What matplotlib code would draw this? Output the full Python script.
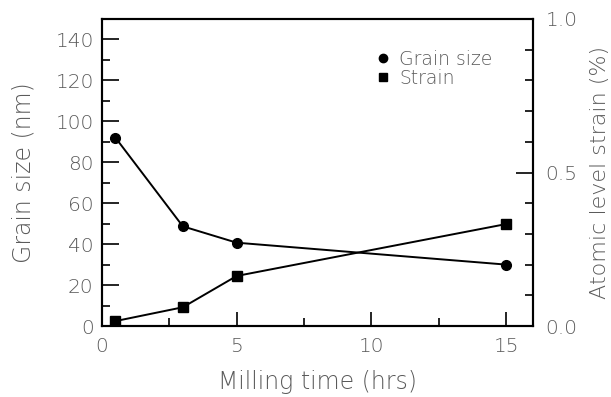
import matplotlib.pyplot as plt
from matplotlib.lines import Line2D
from matplotlib.ticker import MultipleLocator

# data
milling_time = [0.5, 3, 5, 15]
grain_size = [92, 48.7, 40.7, 30]          # nm
strain = [0.016, 0.061, 0.163, 0.332]      # %

TXT = "#5a5a5a"
plt.rcParams['font.family'] = ['DejaVu Sans']
plt.rcParams['font.weight'] = 'light'

fig = plt.figure(figsize=(6.11, 3.97), dpi=100)
ax = fig.add_axes([102 / 611, 1 - 326 / 397, 431 / 611, 307 / 397])
ax2 = ax.twinx()

ax.plot(milling_time, grain_size, color="black", lw=1.4, marker="o", ms=7)
ax2.plot(milling_time, strain, color="black", lw=1.4, marker="s", ms=7)

ax.set_xlim(0, 16)
ax.set_ylim(0, 150)
ax2.set_ylim(0, 1.0)

ax.xaxis.set_major_locator(MultipleLocator(5))
ax.xaxis.set_minor_locator(MultipleLocator(2.5))
ax.yaxis.set_major_locator(MultipleLocator(20))
ax.yaxis.set_minor_locator(MultipleLocator(10))
ax2.yaxis.set_major_locator(MultipleLocator(0.5))
ax2.yaxis.set_minor_locator(MultipleLocator(0.1))
ax2.yaxis.set_major_formatter(plt.FormatStrFormatter("%.1f"))

ax.tick_params(axis="x", which="both", direction="in", top=False, colors="black",
               labelcolor=TXT, labelsize=14.5, pad=8)
ax.tick_params(axis="x", which="major", length=10, width=1.2)
ax.tick_params(axis="x", which="minor", length=6, width=1.2)
ax.tick_params(axis="y", which="both", direction="in", right=False, colors="black",
               labelcolor=TXT, labelsize=14.5, pad=6)
ax.tick_params(axis="y", which="major", length=12, width=1.2)
ax.tick_params(axis="y", which="minor", length=6, width=1.2)
ax2.tick_params(axis="y", which="both", direction="in", colors="black",
                labelcolor=TXT, labelsize=14.5, pad=9)
ax2.tick_params(axis="y", which="major", length=12, width=1.2)
ax2.tick_params(axis="y", which="minor", length=6, width=1.2)

for a in (ax, ax2):
    for s in a.spines.values():
        s.set_linewidth(1.5)

lbl = dict(color=TXT, fontweight="light")
ax.set_xlabel("Milling time (hrs)", fontsize=17, labelpad=10, **lbl)
ax.set_ylabel("Grain size (nm)", fontsize=17, labelpad=14, **lbl)
ax2.set_ylabel("Atomic level strain (%)", fontsize=16, labelpad=9, **lbl)

handles = [
    Line2D([], [], color="black", marker="o", ls="none", ms=6),
    Line2D([], [], color="black", marker="s", ls="none", ms=6),
]
leg = ax.legend(handles, ["Grain size", "Strain"], loc="upper left",
                bbox_to_anchor=(0.605, 0.93), frameon=False, fontsize=13.5,
                handletextpad=0.25, labelspacing=0.0, borderpad=0,
                handlelength=1.2)
for t in leg.get_texts():
    t.set_color(TXT)

fig.savefig("out.png", dpi=100)
